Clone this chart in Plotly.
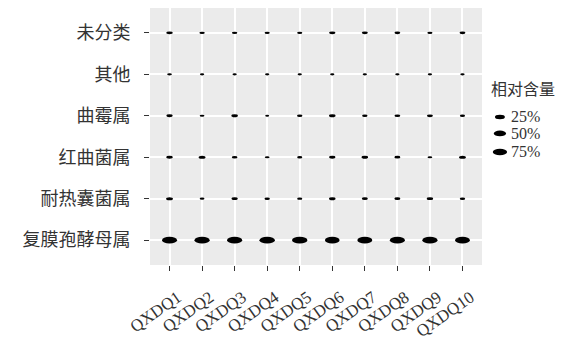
import numpy as np
import plotly.graph_objects as go

samples = ["QXDQ1", "QXDQ2", "QXDQ3", "QXDQ4", "QXDQ5",
           "QXDQ6", "QXDQ7", "QXDQ8", "QXDQ9", "QXDQ10"]
# bottom to top
genera = ["复膜孢酵母属", "耐热囊菌属", "红曲菌属", "曲霉属", "其他", "未分类"]

fumo = [85, 88, 87, 93, 92, 80, 84, 86, 88, 82]
nairenang = [6.0, 1.0, 4.0, 2.0, 1.5, 5.0, 3.5, 3.5, 4.5, 2.0]
hongqu = [4.5, 6.5, 2.5, 1.0, 1.5, 4.0, 5.0, 3.5, 1.0, 6.5]
qumei = [4.0, 1.0, 5.0, 0.5, 2.0, 5.0, 2.0, 3.0, 3.5, 1.5]
qita = [1.0, 0.6, 0.6, 0.6, 0.6, 0.6, 0.6, 0.6, 0.6, 0.6]
weifenlei = [4.5, 2.0, 2.0, 1.5, 1.5, 4.0, 3.5, 3.0, 1.5, 3.0]

series = [fumo, nairenang, hongqu, qumei, qita, weifenlei]

legend_title = "相对含量"
legend_breaks = [25, 50, 75]
legend_labels = ["25%", "50%", "75%"]

FONT = "Liberation Serif, Noto Sans CJK SC"
TXT = "#333333"

allv = np.array(series, dtype=float)
vmin, vmax = allv.min(), allv.max()


def wsize(v):
    t = np.clip((v - vmin) / (vmax - vmin), 0, 1)
    return 4.0 + 11.5 * np.sqrt(t)


def hsize(w):
    return max(2.2, w * 0.45)


shapes = []
xs, ys, texts = [], [], []
for j, vals in enumerate(series):
    for i, v in enumerate(vals):
        w = wsize(v)
        h = hsize(w)
        shapes.append(dict(type="circle", xref="x", yref="y",
                           xsizemode="pixel", ysizemode="pixel",
                           xanchor=i, yanchor=j,
                           x0=-w / 2, x1=w / 2, y0=-h / 2, y1=h / 2,
                           fillcolor="black", line=dict(width=0),
                           layer="above"))
        xs.append(i)
        ys.append(j)
        texts.append(f"{samples[i]} {genera[j]}: {v}%")

fig = go.Figure()
fig.add_trace(go.Scatter(x=xs, y=ys, mode="markers", text=texts,
                         hoverinfo="text",
                         marker=dict(size=10, color="rgba(0,0,0,0)"),
                         showlegend=False))

# legend (manual, ellipse keys)
annotations = [dict(text=legend_title, xref="paper", yref="paper",
                    x=1.02, y=0.681, xanchor="left", yanchor="middle",
                    showarrow=False, font=dict(family=FONT, size=16, color=TXT))]
leg_y = [0.576, 0.512, 0.44]
for k, (b, lab) in enumerate(zip(legend_breaks, legend_labels)):
    w = wsize(b)
    h = hsize(w)
    shapes.append(dict(type="circle", xref="paper", yref="paper",
                       xsizemode="pixel", ysizemode="pixel",
                       xanchor=1.054, yanchor=leg_y[k],
                       x0=-w / 2, x1=w / 2, y0=-h / 2, y1=h / 2,
                       fillcolor="black", line=dict(width=0)))
    annotations.append(dict(text=lab, xref="paper", yref="paper",
                            x=1.08, y=leg_y[k], xanchor="left", yanchor="middle",
                            showarrow=False,
                            font=dict(family=FONT, size=16, color=TXT)))

# page body has an 8px margin, so the figure is shifted by (8, 8)
fig.update_layout(
    width=563, height=342,
    margin=dict(l=142, r=89, t=0, b=85, autoexpand=False),
    paper_bgcolor="white",
    plot_bgcolor="#EBEBEB",
    shapes=shapes,
    annotations=annotations,
    showlegend=False,
    font=dict(family=FONT, color=TXT),
)
fig.update_xaxes(
    range=[-0.6, len(samples) - 0.4],
    tickvals=list(range(len(samples))), ticktext=samples,
    tickangle=-35, ticks="outside", ticklen=5, tickwidth=1, tickcolor="#333333",
    showgrid=True, gridcolor="white", gridwidth=1.6, zeroline=False,
    tickfont=dict(family=FONT, size=17, color=TXT), showline=False,
    ticklabelshift=8, ticklabelstandoff=10,
    automargin=False,
)
fig.update_yaxes(
    range=[-0.6, len(genera) - 0.4],
    tickvals=list(range(len(genera))), ticktext=genera,
    ticks="outside", ticklen=5, tickwidth=1, tickcolor="#333333",
    showgrid=True, gridcolor="white", gridwidth=1.6, zeroline=False,
    tickfont=dict(family=FONT, size=18, color=TXT), showline=False,
    ticklabelstandoff=10, automargin=False,
)

fig.write_html("out.html")
